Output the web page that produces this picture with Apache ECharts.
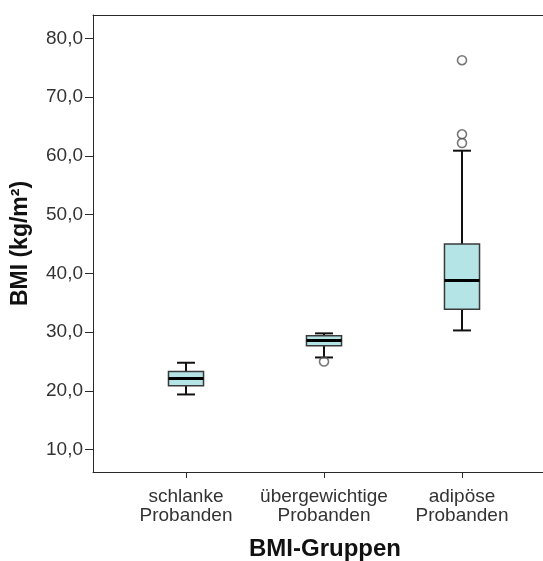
<!DOCTYPE html>
<html>
<head>
<meta charset="utf-8">
<script src="https://cdn.jsdelivr.net/npm/echarts@6/dist/echarts.min.js"></script>
<style>
html,body{margin:0;padding:0;background:#fff;}
#chart{width:543px;height:561px;}
</style>
</head>
<body>
<div id="chart"></div>
<script>
// Categories (x positions 0,1,2)
const categories = ["schlanke\nProbanden", "übergewichtige\nProbanden", "adipöse\nProbanden"];
// Box statistics per category: [whiskerLow, q1, median, q3, whiskerHigh]
const whiskerLow  = [19.4, 25.7, 30.3];
const q1          = [20.9, 27.7, 33.9];
const median      = [22.1, 28.6, 38.8];
const q3          = [23.3, 29.4, 45.0];
const whiskerHigh = [24.8, 29.8, 60.9];
// Outliers: category index and value
const outlierCat   = [1, 2, 2, 2];
const outlierValue = [25.0, 76.3, 63.7, 62.2];
// Y tick labels
const yTicks = [10, 20, 30, 40, 50, 60, 70, 80];

const boxData = categories.map((c, i) => [i, whiskerLow[i], q1[i], median[i], q3[i], whiskerHigh[i]]);
const outlierData = outlierCat.map((c, i) => [c, outlierValue[i]]);

const chart = echarts.init(document.getElementById('chart'), null, {renderer: 'canvas'});
const FONT = '"Liberation Sans", Arial, sans-serif';
const LINE = '#2a2a2a';

chart.setOption({
  animation: false,
  backgroundColor: '#ffffff',
  grid: {left: 93, top: 15, right: 0, bottom: 89, show: false, containLabel: false, outerBoundsMode: 'none'},
  xAxis: [{
    type: 'value',
    min: -0.674, max: 2.587,
    splitLine: {show: false},
    axisLine: {show: true, onZero: false, lineStyle: {color: LINE, width: 1}},
    axisTick: {show: true, customValues: [0, 1, 2], length: 6, lineStyle: {color: LINE, width: 1}},
    axisLabel: {
      customValues: [0, 1, 2],
      formatter: v => categories[Math.round(v)],
      color: '#333', fontFamily: FONT, fontSize: 19, lineHeight: 19, margin: 15
    },
    name: 'BMI-Gruppen',
    nameLocation: 'middle',
    nameGap: 65,
    nameTextStyle: {fontFamily: FONT, fontSize: 24, fontWeight: 'bold', color: '#111', padding: [0, 0, 0, 14]}
  }, {
    type: 'value',
    position: 'top',
    min: -0.674, max: 2.587,
    splitLine: {show: false},
    axisLine: {show: true, onZero: false, lineStyle: {color: LINE, width: 1}},
    axisTick: {show: false},
    axisLabel: {show: false}
  }],
  yAxis: {
    type: 'value',
    min: 6.2, max: 84,
    splitLine: {show: false},
    axisLine: {show: true, onZero: false, lineStyle: {color: LINE, width: 1}},
    axisTick: {show: true, customValues: yTicks, length: 8, lineStyle: {color: LINE, width: 1}},
    axisLabel: {
      customValues: yTicks,
      formatter: v => v.toFixed(1).replace('.', ','),
      color: '#333', fontFamily: FONT, fontSize: 19, margin: 10
    },
    name: 'BMI (kg/m²)',
    nameLocation: 'middle',
    nameRotate: 90,
    nameGap: 61,
    nameTextStyle: {fontFamily: FONT, fontSize: 23, fontWeight: 'bold', color: '#111'}
  },
  series: [
    {
      type: 'custom',
      data: boxData,
      encode: {x: 0, y: [1, 2, 3, 4, 5]},
      renderItem: function (params, api) {
        const x = api.value(0);
        const pLow = api.coord([x, api.value(1)]);
        const pQ1 = api.coord([x, api.value(2)]);
        const pMed = api.coord([x, api.value(3)]);
        const pQ3 = api.coord([x, api.value(4)]);
        const pHigh = api.coord([x, api.value(5)]);
        const boxW = api.size([0.254, 0])[0];
        const capW = api.size([0.13, 0])[0];
        const cx = pQ1[0];
        return {
          type: 'group',
          children: [
            {type: 'line', shape: {x1: cx, y1: pQ3[1], x2: cx, y2: pHigh[1]}, style: {stroke: '#111', lineWidth: 2}},
            {type: 'line', shape: {x1: cx, y1: pQ1[1], x2: cx, y2: pLow[1]}, style: {stroke: '#111', lineWidth: 2}},
            {type: 'line', shape: {x1: cx - capW / 2, y1: pHigh[1], x2: cx + capW / 2, y2: pHigh[1]}, style: {stroke: '#111', lineWidth: 2}},
            {type: 'line', shape: {x1: cx - capW / 2, y1: pLow[1], x2: cx + capW / 2, y2: pLow[1]}, style: {stroke: '#111', lineWidth: 2}},
            {type: 'rect', shape: {x: cx - boxW / 2, y: pQ3[1], width: boxW, height: pQ1[1] - pQ3[1]},
              style: {fill: '#b4e4e6', stroke: '#3a3a3a', lineWidth: 1.5}},
            {type: 'line', shape: {x1: cx - boxW / 2, y1: pMed[1], x2: cx + boxW / 2, y2: pMed[1]}, style: {stroke: '#000', lineWidth: 3}}
          ]
        };
      },
      z: 3
    },
    {
      type: 'scatter',
      data: outlierData,
      symbol: 'circle',
      symbolSize: 9,
      itemStyle: {color: 'transparent', borderColor: '#555', borderWidth: 1.6},
      z: 4
    }
  ]
});
</script>
</body>
</html>
